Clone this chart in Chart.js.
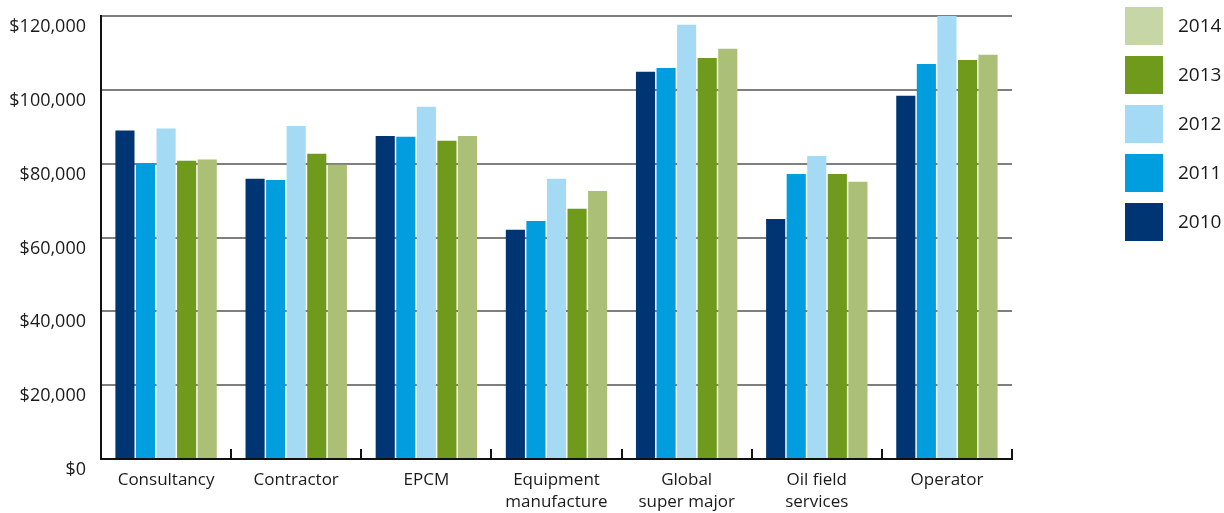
<!DOCTYPE html>
<html lang="en">
<head>
<meta charset="UTF-8">
<title>Salaries by sector</title>
<script src="https://cdn.jsdelivr.net/npm/chart.js"></script>
<style>
    body { margin: 0; background: #fff; }
</style>
</head>
<body>
<canvas id="myChart" width="1224" height="513"></canvas>
<script>
    // categories and values
    const sectors = ['Consultancy', 'Contractor', 'EPCM', ['Equipment', 'manufacture'], ['Global', 'super major'], ['Oil field', 'services'], 'Operator']
    const years = ['2010', '2011', '2012', '2013', '2014']
    const y2010 = [89000, 75900, 87500, 62100, 104900, 65000, 98400]
    const y2011 = [80100, 75600, 87300, 64500, 105900, 77200, 107000]
    const y2012 = [89500, 90200, 95400, 75900, 117600, 82100, 120000]
    const y2013 = [80800, 82700, 86200, 67800, 108600, 77200, 108100]
    const y2014 = [81100, 79700, 87500, 72600, 111100, 75100, 109500]
    const yTicks = [0, 20000, 40000, 60000, 80000, 100000, 120000]

    const barColors = ['#003574', '#009ddf', '#a4daf3', '#709a1b', '#abbf77']
    const swatchColors = ['#003574', '#009ddf', '#a4daf3', '#709a1b', '#c6d6a6']

    const fontFamily = '"Open Sans", Lato, sans-serif'

    const series = [y2010, y2011, y2012, y2013, y2014]
    const datasets = series.map((vals, i) => ({
        label: years[i],
        data: vals,
        backgroundColor: barColors[i],
        borderWidth: 0,
        categoryPercentage: 0.79,
        barPercentage: 0.93
    }))

    // legend on the right, newest year on top
    const sideLegend = {
        id: 'sideLegend',
        afterDraw(chart) {
            const c = chart.ctx
            c.save()
            c.font = '19px ' + fontFamily
            c.textBaseline = 'middle'
            c.textAlign = 'left'
            const n = chart.data.datasets.length
            for (let k = 0; k < n; k++) {
                const i = n - 1 - k
                const top = 7 + k * 49
                c.fillStyle = swatchColors[i]
                c.fillRect(1125, top, 38, 38)
                c.fillStyle = '#1a1a1a'
                c.fillText(chart.data.datasets[i].label, 1178, top + 20)
            }
            c.restore()
        }
    }

    const ctx = document.getElementById('myChart')
    new Chart(ctx, {
        type: 'bar',
        data: { labels: sectors, datasets: datasets },
        plugins: [sideLegend],
        options: {
            responsive: false,
            animation: false,
            layout: { padding: { top: 16, right: 212, bottom: 0, left: 0 } },
            plugins: {
                legend: { display: false },
                tooltip: { enabled: false }
            },
            scales: {
                x: {
                    afterFit(scale) { scale.height = 54 },
                    grid: {
                        offset: true,
                        drawOnChartArea: false,
                        color: '#111',
                        lineWidth: 2,
                        tickLength: -10
                    },
                    border: { color: '#111', width: 2 },
                    ticks: {
                        color: '#1a1a1a',
                        padding: 20,
                        font: { family: fontFamily, size: 17, lineHeight: 1.3 },
                        maxRotation: 0,
                        autoSkip: false
                    }
                },
                y: {
                    min: 0,
                    max: 120000,
                    afterFit(scale) {
                        scale.width = 101
                        scale.paddingTop = 0
                        scale.paddingBottom = 0
                    },
                    afterBuildTicks(scale) { scale.ticks = yTicks.map(v => ({ value: v })) },
                    grid: {
                        color: '#7f7f7f',
                        lineWidth: 2,
                        drawTicks: false
                    },
                    border: { color: '#111', width: 2 },
                    ticks: {
                        color: '#1a1a1a',
                        padding: 15,
                        labelOffset: 11,
                        font: { family: fontFamily, size: 18 },
                        callback: v => '$' + v.toLocaleString('en-US')
                    }
                }
            }
        }
    })
</script>
</body>
</html>
